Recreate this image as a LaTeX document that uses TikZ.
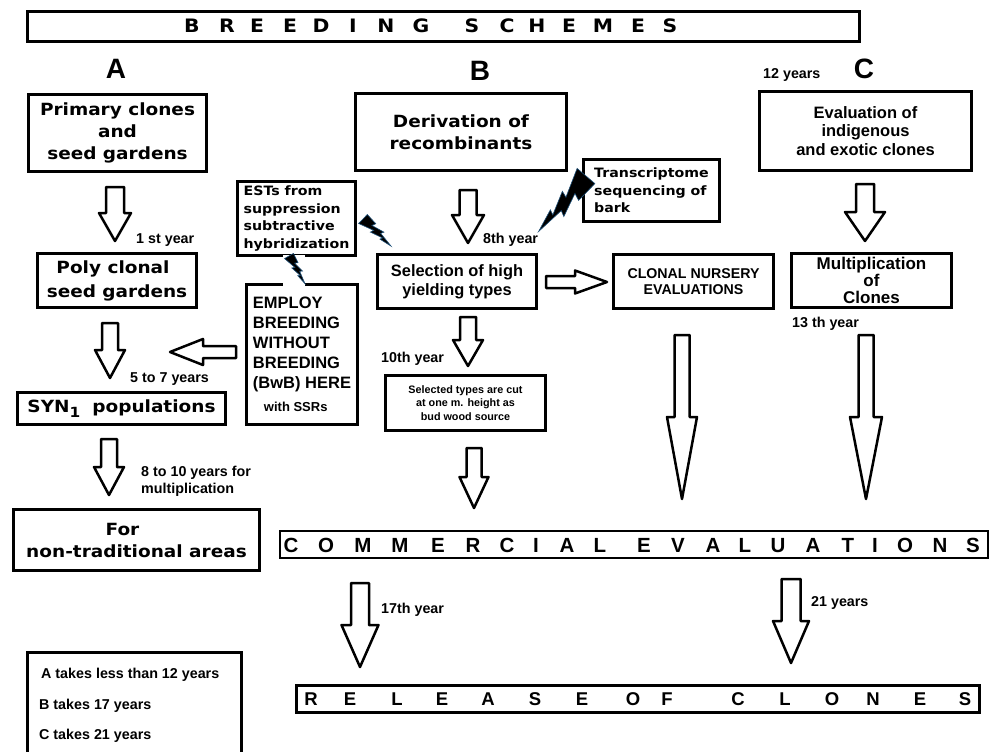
\documentclass[tikz,border=0pt]{standalone}
\usepackage{fontspec}
\setmainfont{Liberation Sans}
\newfontfamily\verd{DejaVu Sans}[FakeStretch=1.1]
\definecolor{boltedge}{RGB}{30,80,120}
\newcommand{\barrowdown}[6]{\draw[blockarrow] (#1-#5,#2) -- (#1+#5,#2) -- (#1+#5,#4) -- (#1+#6,#4) -- (#1,#3) -- (#1-#6,#4) -- (#1-#5,#4) -- cycle;}
\newcommand{\barrowside}[6]{\draw[blockarrow] (#2,#1-#5) -- (#4,#1-#5) -- (#4,#1-#6) -- (#3,#1) -- (#4,#1+#6) -- (#4,#1+#5) -- (#2,#1+#5) -- cycle;}
\begin{document}
\begin{tikzpicture}[x=1pt,y=-1pt,
  box/.style={draw, line width=2.8pt, inner sep=0pt, align=center},
  vbig/.style={font=\verd\bfseries\fontsize{16.8}{21.7}\selectfont},
  vsmall/.style={font=\verd\bfseries\fontsize{12.9}{17.4}\selectfont},
  lab/.style={anchor=base west, inner sep=0pt, font=\bfseries\fontsize{14.3}{17}\selectfont},
  head/.style={anchor=base, inner sep=0pt, font=\bfseries\fontsize{28}{30}\selectfont},
  titlel/.style={anchor=base, inner sep=0pt, font=\verd\bfseries\fontsize{18.5}{20}\selectfont},
  comml/.style={anchor=base, inner sep=0pt, font=\bfseries\fontsize{20.5}{22}\selectfont},
  rell/.style={anchor=base, inner sep=0pt, font=\bfseries\fontsize{18.5}{20}\selectfont},
  blockarrow/.style={draw, fill=white, line width=2.5pt, line join=round},
  boltstyle/.style={fill=black, draw=boltedge, line width=0.6pt},
  bolt/.pic={\path[boltstyle] (0,0.16) -- (0.40,0.02) -- (0.37,0.11) -- (0.70,0.0) -- (0.67,0.07) -- (1,0) -- (0.58,-0.05) -- (0.62,-0.13) -- (0.28,-0.04) -- (0.32,-0.14) -- (0,-0.16) -- cycle;}
]
\useasboundingbox (0,0) rectangle (991,752);

% title
\node[box, minimum width=832pt, minimum height=30pt] (title) at (443.5,26.5) {};
\foreach \ch/\xx [count=\i] in {B/192,R/227,E/257,E/290,D/321,I/353,N/386,G/421,S/472,C/507,H/537,E/569,M/603,E/638,S/670}
  \node[titlel] (t\i) at (\xx,33) {\ch};

% headings
\node[head] (hA) at (116,79) {A};
\node[head] (hB) at (480,81) {B};
\node[head] (hC) at (864,78) {C};
\node[lab] (l12) at (763,79) {12 years};

% column A
\node[box, vbig, minimum width=178pt, minimum height=77pt] (primary) at (117.5,133) {Primary clones\\and\hspace*{20pt}\\seed gardens};
\node[box, vbig, font=\verd\bfseries\fontsize{16.8}{24}\selectfont, minimum width=159pt, minimum height=54pt] (poly) at (117,280.5) {Poly clonal\hspace*{8pt}\\seed gardens};
\node[box, vbig, minimum width=208pt, minimum height=32pt] (syn) at (121.5,408.5) {SYN\raisebox{-5pt}{\fontsize{14}{14}\selectfont 1}\hspace{12pt}populations};
\node[box, vbig, font=\verd\bfseries\fontsize{16.8}{22}\selectfont, minimum width=246pt, minimum height=61pt] (nontrad) at (136.5,540) {For\hspace*{28pt}\\non-traditional areas};

\barrowdown{115}{187}{241}{213}{9}{16}
\barrowdown{110}{323}{378}{350}{8}{15}
\barrowdown{109}{439}{495}{467}{8}{15}
\node[lab] (l1st) at (136,243) {1 st year};
\node[lab] (l57) at (130,382) {5 to 7 years};
\node[lab] (l810) at (141,476) {8 to 10 years for};
\node[lab] (lmult) at (141,493) {multiplication};

% ESTs and EMPLOY
\node[box, vsmall, align=left, minimum width=118pt, minimum height=74pt] (ests) at (296.5,218.5) {ESTs from\\suppression\\subtractive\\hybridization};
\node[box, align=left, font=\bfseries\fontsize{16.5}{20}\selectfont, minimum width=111pt, minimum height=140pt] (employ) at (302,354.5) {EMPLOY\\BREEDING\\WITHOUT\\BREEDING\\(BwB) HERE\\[3pt]\hspace*{11pt}{\fontsize{13}{15}\selectfont with SSRs}};
\barrowside{352}{236}{170}{203}{6}{13}

% column B
\node[box, vbig, font=\verd\bfseries\fontsize{16.8}{22}\selectfont, minimum width=211pt, minimum height=77pt] (deriv) at (461,132) {Derivation of\\recombinants};
\node[box, vsmall, align=left, minimum width=136pt, minimum height=62pt] (trans) at (651.5,190.5) {Transcriptome\\sequencing of\\bark};
\node[box, font=\bfseries\fontsize{16.4}{19}\selectfont, minimum width=159pt, minimum height=54pt] (select) at (457,281.5) {Selection of high\\yielding types};
\node[box, font=\bfseries\fontsize{14.2}{16.5}\selectfont, minimum width=160pt, minimum height=54pt] (clonal) at (693.5,281.5) {CLONAL NURSERY\\EVALUATIONS};
\node[box, font=\bfseries\fontsize{10.8}{13.3}\selectfont, minimum width=160pt, minimum height=55pt] (seltypes) at (465.5,403) {Selected types are cut\\at one m. height as\\bud wood source};
\barrowdown{468}{190}{243}{215}{8.5}{16}
\barrowdown{468}{317}{366}{340}{8}{15}
\barrowdown{474}{448}{508}{477}{7.5}{14.5}
\barrowside{282}{546}{607}{575}{6}{11.5}
\node[lab] (l8th) at (483,243) {8th year};
\node[lab] (l10th) at (381,362) {10th year};

% column C
\node[box, font=\bfseries\fontsize{16.5}{18.5}\selectfont, minimum width=212pt, minimum height=79pt] (evalc) at (865.5,131) {Evaluation of\\indigenous\\and exotic clones};
\node[box, font=\bfseries\fontsize{17}{17}\selectfont, minimum width=160pt, minimum height=54pt] (multi) at (871.5,280.5) {Multiplication\\of\\Clones};
\barrowdown{865}{184}{241}{212}{9}{20}
\node[lab] (l13) at (792,327) {13 th year};
\barrowdown{682}{335}{499}{417}{7.5}{15}
\barrowdown{866}{335}{499}{417}{7.5}{16}

% commercial evaluations
\node[box, line width=2.2pt, minimum width=708pt, minimum height=27pt] (comm) at (634,544.5) {};
\foreach \ch/\xx [count=\i] in {C/291,O/326,M/363,M/400,E/438,R/473,C/507,I/536,A/567,L/600,E/644,V/678,A/713,L/745,U/778,A/813,T/848,I/875,O/905,N/940,S/973}
  \node[comml] (c\i) at (\xx,552) {\ch};

\barrowdown{360}{583}{667}{625}{9}{18.5}
\barrowdown{791}{579}{663}{621}{9.5}{18}
\node[lab] (l17) at (381,613) {17th year};
\node[lab] (l21) at (811,606) {21 years};

% release of clones
\node[box, minimum width=683pt, minimum height=27pt] (release) at (638,699) {};
\foreach \ch/\xx [count=\i] in {R/311,E/350,L/397,E/442,A/488,S/535,E/582,O/633,F/667,C/738,L/785,O/832,N/873,E/920,S/965}
  \node[rell] (r\i) at (\xx,705) {\ch};

% legend
\draw[line width=2.8pt] (27.5,770) -- (27.5,652.5) -- (241.5,652.5) -- (241.5,770);
\node[lab] (legA) at (41,678) {A takes less than 12 years};
\node[lab] (legB) at (39,709) {B takes 17 years};
\node[lab] (legC) at (39,739) {C takes 21 years};

% lightning bolts
\fill[white] (283,254.5) rectangle (305,259.5);
\fill[white] (283,280.5) rectangle (305,285.5);
\path (363,219) pic[rotate=-44, scale=39] {bolt};
\path (289,256) pic[rotate=-60, scale=32] {bolt};
\path (586,176) pic[rotate=-130.5, scale=73] {bolt};
\end{tikzpicture}
\end{document}
